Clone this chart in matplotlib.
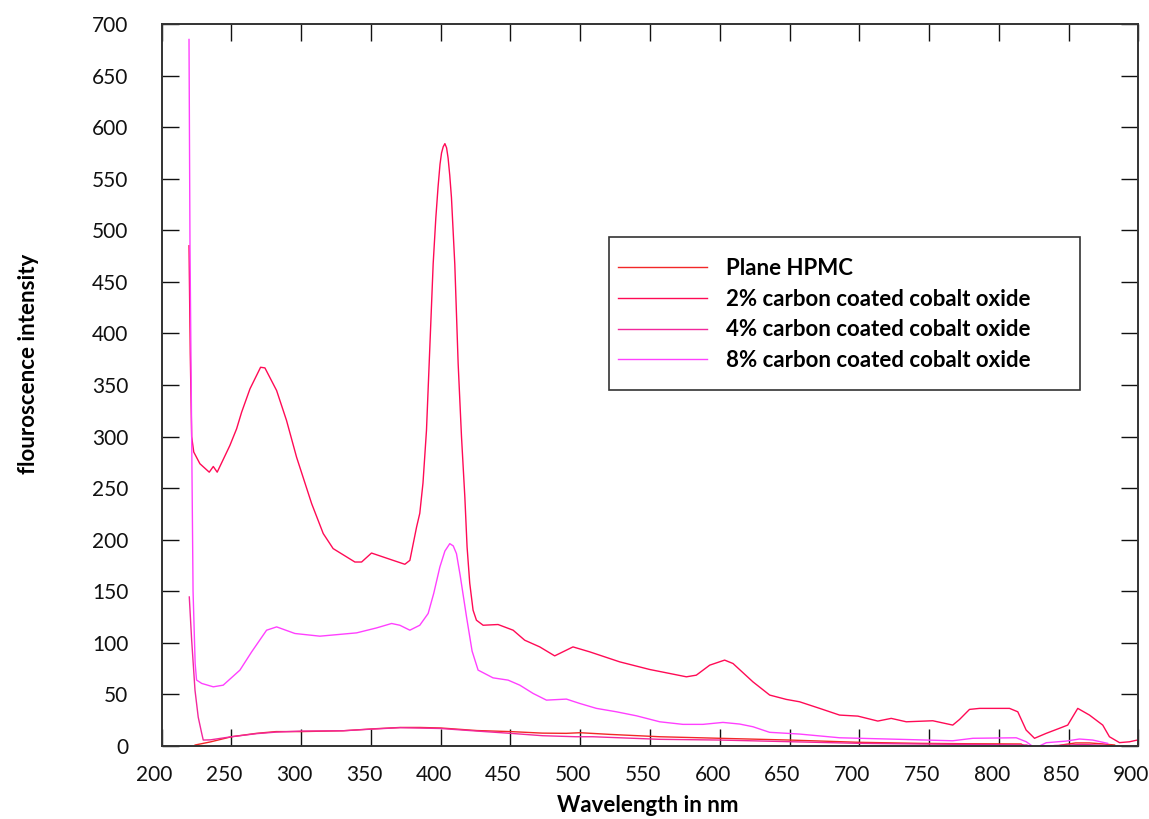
import matplotlib
matplotlib.use("Agg")
import matplotlib.pyplot as plt
import matplotlib.transforms as mtransforms
from matplotlib.patches import Rectangle
from matplotlib.ticker import MultipleLocator

plt.rcParams["font.family"] = ["Lato", "DejaVu Sans"]

# ---- data ----
wl_plane = [224, 235, 250, 268, 282, 300, 330, 352, 371, 385, 400, 426, 450, 473,
            490, 500, 521, 557, 600, 650, 700, 743, 780, 816, 822, 830, 845, 855,
            865, 875, 883]
int_plane = [1, 4, 9, 12.3, 14, 14, 14.8, 16.7, 18, 18, 17.5, 15, 14, 12.5,
             12.3, 12.9, 11.3, 9, 7.5, 5.8, 3.6, 2.6, 2.2, 2, -3, -4, 1, 3,
             3, 2, 1]

wl_2 = [219.6, 220.5, 221.5, 223, 227.4, 234.1, 237, 239.8, 248.9, 253.7, 257.3,
        263.3, 270.9, 274, 282.4, 289.5, 296.7, 307.5, 315.8, 322.9, 338.5, 343.3,
        350.4, 365.9, 374.3, 377.9, 382.7, 385, 387.3, 389.8, 392.2, 394.6, 396.5,
        398.1, 399.5, 400.6, 401.8, 403, 404.2, 405.3, 406.5, 407.7, 410.1, 412.5,
        414.9, 417.3, 418.9, 420.8, 423.2,
        425.6, 430.4, 441.1, 451.9, 460.2, 471, 481.7,
        494.8, 506.8, 528.3, 549.8, 561.7, 576.1, 583.2, 592.8, 603.5, 609.5,
        623.8, 635.8, 647.7, 657.2, 671.6, 685.9, 699, 713.3, 722.9, 733.7, 752.7,
        767, 771.9, 779, 786.2, 807.7, 813.6, 819.6, 825.6, 834, 843.5, 849.4,
        856.6, 865, 874.5, 879.3, 886.5, 893.6, 900]
int_2 = [485, 380, 300, 285, 273.7, 265.5, 271, 265.5, 291.4, 307.5, 323.6,
         346.3, 367.2, 366.6, 344.6, 315.6, 280, 235, 206, 191.4, 178.4, 178.4,
         187.1, 180, 176.2, 180, 212.3, 225.6, 255, 306, 386.5, 467.6, 512,
         542, 564, 575, 581, 584, 580, 570, 553, 531.8, 467, 370.8,
         300, 241.3, 193, 158, 131.7,
         122, 117.1, 117.8, 112.3, 102.6, 96.1, 87.4,
         96.1, 91.3, 81.6, 74.2, 71, 67.1, 68.7, 78.4, 83.3, 80,
         62.2, 49.4, 45.2, 42.9, 36.5, 30, 29, 24.2, 26.8, 23.5, 24.5,
         20.3, 25.8, 35.5, 36.5, 36.5, 33.2, 15.5, 7.5, 12.3, 17.2, 20.3,
         36.5, 30, 20.3, 9, 3.3, 4.1, 6]

wl_4 = [219.8, 221.5, 223.9, 226.2, 228.7, 229.8, 235, 250, 268, 282, 300, 330,
        352, 371, 400, 426, 450, 473, 497, 509, 557, 600, 650, 700, 743, 780,
        820, 826, 840, 860, 880]
int_4 = [144.5, 102.6, 54, 28, 12.3, 5.8, 6, 9, 12, 13.5, 14.5, 14.8,
         16.5, 17.8, 17, 14.5, 12.3, 10, 9, 9, 6.5, 5.8, 4.2, 2.6, 2, 1.5,
         1.0, -2, 0.5, 1.5, 0.5]

wl_8 = [219.6, 220.3, 221.5, 222.5, 224, 225, 228.7, 237, 244.1, 256.1, 264.5,
        275.2, 282.4, 295.5, 313.4, 339.7, 354, 364.8, 370.7, 377.9, 385, 391,
        395, 399.4, 403, 406.5, 409, 411.3, 414, 418.5, 422.5, 426.8, 437.5, 448.3,
        456.7, 466.2, 475.8,
        490.1, 499.6, 511.6, 525.9, 540.3, 557, 573.6, 588, 602.3, 614.3, 623.8,
        635.7, 657.2, 685.9, 728.9, 767, 781.4, 812.5, 819.6, 826, 834, 848.3,
        857.8, 867.3, 878]
int_8 = [685, 485, 300, 150, 80, 64, 60.7, 57.4, 59, 73.6, 91.3,
         112.3, 115.5, 109.1, 106.5, 109.7, 114.5, 118.8, 117.1, 112.3, 117.1, 128.5,
         148, 173.6, 189, 196.2, 194, 186.5, 165, 125.2, 92, 73.6, 66.1, 63.9,
         59, 51, 44.5,
         45.5, 41.3, 36.5, 33.2, 29.3, 23.5, 21, 21, 22.9, 21.3, 18.7,
         13.3, 11.6, 8, 6.5, 5.1, 7.5, 8, 4.2, -2, 3.2, 4.8,
         6.8, 5.8, 2.6]

labels = ["Plane HPMC", "2% carbon coated cobalt oxide",
          "4% carbon coated cobalt oxide", "8% carbon coated cobalt oxide"]
colors = ["#F22828", "#FF0A55", "#F2289C", "#FF40FF"]

fig = plt.figure(figsize=(11.49, 8.19), dpi=100)
ax = fig.add_axes([0.1407, 0.0891, 0.850, 0.8816])

series = [(wl_plane, int_plane), (wl_2, int_2), (wl_4, int_4), (wl_8, int_8)]
for (x, y), lab, c in zip(series, labels, colors):
    ax.plot(x, y, color=c, lw=1.0, label=lab)

ax.set_xlim(200, 900)
ax.set_ylim(0, 700)
ax.xaxis.set_major_locator(MultipleLocator(50))
ax.yaxis.set_major_locator(MultipleLocator(50))
ax.tick_params(direction="in", length=12, width=1.0, top=True, right=True,
               labelsize=15, colors="#111111")
ax.tick_params(axis="y", pad=24)
ax.tick_params(axis="x", pad=14)
for s in ax.spines.values():
    s.set_linewidth(1.4)
    s.set_color("#333333")

# x tick labels sit a little left of their ticks in the original
shift = mtransforms.ScaledTranslation(-7 / 100, 0, fig.dpi_scale_trans)
for lbl in ax.get_xticklabels():
    lbl.set_transform(lbl.get_transform() + shift)

ax.set_xlabel("Wavelength in nm", fontsize=16, fontweight="bold", va="top")
ax.xaxis.set_label_coords(0.498, -0.068)
ax.set_ylabel("flouroscence intensity", fontsize=16, fontweight="bold")
ax.yaxis.set_label_coords(-0.126, 0.529)

# legend box drawn separately so its size matches the original
ax.add_patch(Rectangle((0.4578, 0.493), 0.4821, 0.212, transform=ax.transAxes,
                       fill=False, edgecolor="#333333", lw=1.2, zorder=5))
ax.legend(loc="upper left", bbox_to_anchor=(0.467, 0.676), frameon=False,
          prop={"weight": "bold", "size": 16}, handlelength=4.0,
          handletextpad=0.85, labelspacing=0.44, borderpad=0, borderaxespad=0)

fig.savefig("out.png", dpi=100)
